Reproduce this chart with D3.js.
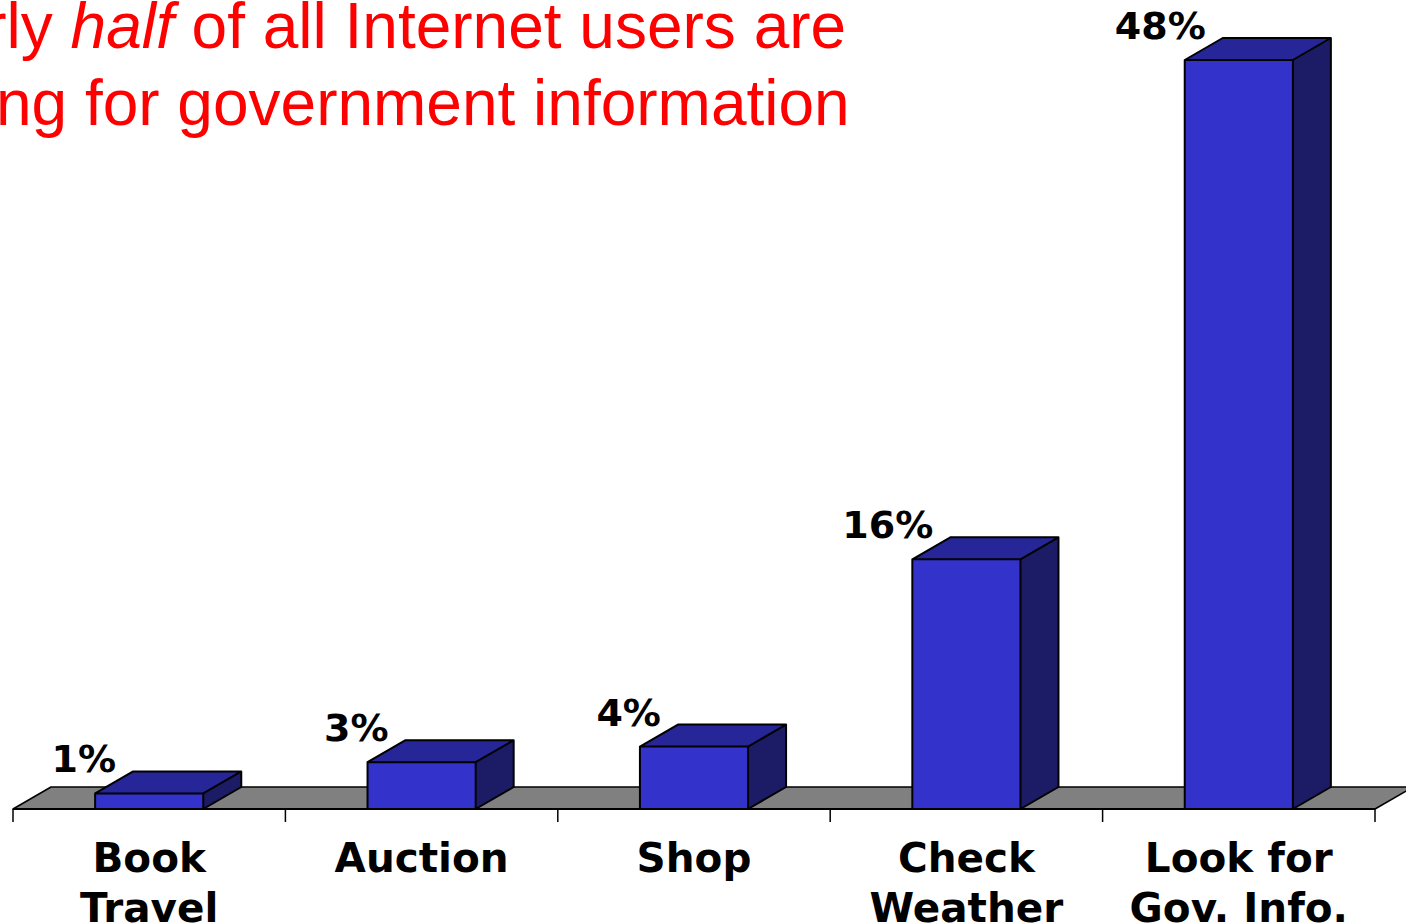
<!DOCTYPE html>
<html>
<head>
<meta charset="utf-8">
<script src="https://cdn.jsdelivr.net/npm/d3@7"></script>
<style>
    body { margin: 0; background: #fff; overflow: hidden; }
    svg { display: block; }
</style>
</head>
<body>
<div id="chart"></div>
<script>
// chart data
var categories = ['Book Travel', 'Auction', 'Shop', 'Check Weather', 'Look for Gov. Info.'];
var categoryLines = [['Book', 'Travel'], ['Auction'], ['Shop'], ['Check', 'Weather'], ['Look for', 'Gov. Info.']];
var values = [1, 3, 4, 16, 48];
var valueLabels = ['1%', '3%', '4%', '16%', '48%'];

// title, pieces with italic flag
var titleLines = [
    [['Nearly ', false], ['half', true], [' of all Internet users are', false]],
    [['looking for government information', false]]
];

var width = 1406,
    height = 924;

// depth of the fake 3d
var depthX = 38,
    depthY = -22;

var colors = {
    front: '#3333CC',
    top: '#262699',
    side: '#1C1C66',
    floor: '#808080'
};

var svg = d3.select('#chart').append('svg')
    .attr('width', width)
    .attr('height', height);

// scales
var x = d3.scaleBand()
    .domain(categories)
    .range([13, 1375])
    .paddingInner(0.603)
    .paddingOuter(0.3015);

var xBand = d3.scaleBand()
    .domain(categories)
    .range([13, 1375]);

var y = d3.scaleLinear()
    .domain([0, 48])
    .range([809, 60]);

var y0 = y(0);

// floor
var floorLeft = xBand.range()[0],
    floorRight = xBand.range()[1];

svg.append('polygon')
    .attr('points', [
        [floorLeft, y0],
        [floorLeft + depthX, y0 + depthY],
        [floorRight + depthX, y0 + depthY],
        [floorRight, y0]
    ].join(' '))
    .attr('fill', colors.floor)
    .attr('stroke', '#000')
    .attr('stroke-width', 1.5)
    .attr('stroke-linejoin', 'round');

// axis line and ticks
var axis = d3.axisBottom(xBand)
    .tickSize(13)
    .tickFormat('');

var axisG = svg.append('g')
    .attr('transform', 'translate(0,' + y0 + ')')
    .call(axis);

axisG.selectAll('.tick').remove();
axisG.select('.domain').attr('stroke', '#000').attr('stroke-width', 2)
    .attr('d', 'M' + floorLeft + ',0H' + floorRight);

var tickPos = categories.map(function(c){ return xBand(c); }).concat([floorRight]);
axisG.selectAll('line.tk')
    .data(tickPos)
    .enter().append('line')
        .attr('class', 'tk')
        .attr('x1', function(d){ return d; })
        .attr('x2', function(d){ return d; })
        .attr('y1', 0)
        .attr('y2', 13)
        .attr('stroke', '#000')
        .attr('stroke-width', 1.5);

// bars
var bars = svg.selectAll('g.bar')
    .data(values)
    .enter().append('g')
        .attr('class', 'bar');

function barPts(d, i){
    var x0 = x(categories[i]),
        x1 = x0 + x.bandwidth(),
        top = y(d);
    return {x0: x0, x1: x1, top: top};
}

bars.append('polygon')
    .attr('points', function(d, i){
        var p = barPts(d, i);
        return [[p.x0, p.top], [p.x0 + depthX, p.top + depthY], [p.x1 + depthX, p.top + depthY], [p.x1, p.top]].join(' ');
    })
    .attr('fill', colors.top);

bars.append('polygon')
    .attr('points', function(d, i){
        var p = barPts(d, i);
        return [[p.x1, p.top], [p.x1 + depthX, p.top + depthY], [p.x1 + depthX, y0 + depthY], [p.x1, y0]].join(' ');
    })
    .attr('fill', colors.side);

bars.append('rect')
    .attr('x', function(d, i){ return x(categories[i]); })
    .attr('y', function(d){ return y(d); })
    .attr('width', x.bandwidth())
    .attr('height', function(d){ return y0 - y(d); })
    .attr('fill', colors.front);

// outline of the whole box
bars.append('path')
    .attr('d', function(d, i){
        var p = barPts(d, i);
        return 'M' + p.x0 + ',' + y0 + 'V' + p.top + 'L' + (p.x0 + depthX) + ',' + (p.top + depthY) +
            'H' + (p.x1 + depthX) + 'V' + (y0 + depthY) + 'L' + p.x1 + ',' + y0 + 'Z' +
            'M' + p.x0 + ',' + p.top + 'H' + p.x1 + 'V' + y0 +
            'M' + p.x1 + ',' + p.top + 'L' + (p.x1 + depthX) + ',' + (p.top + depthY);
    })
    .attr('fill', 'none')
    .attr('stroke', '#000')
    .attr('stroke-width', 2)
    .attr('stroke-linejoin', 'round');

// value labels
bars.append('text')
    .attr('x', function(d, i){ return x(categories[i]) + 21; })
    .attr('y', function(d){ return y(d) - 21; })
    .attr('text-anchor', 'end')
    .attr('font-family', 'DejaVu Sans, Verdana, sans-serif')
    .attr('font-weight', 'bold')
    .attr('font-size', '38px')
    .attr('fill', '#000')
    .text(function(d, i){ return valueLabels[i]; });

// category labels
var catLabels = svg.selectAll('text.cat')
    .data(categories)
    .enter().append('text')
        .attr('class', 'cat')
        .attr('text-anchor', 'middle')
        .attr('font-family', 'DejaVu Sans, Verdana, sans-serif')
        .attr('font-weight', 'bold')
        .attr('font-size', '40.5px')
        .attr('fill', '#000');

catLabels.selectAll('tspan')
    .data(function(d, i){ return categoryLines[i].map(function(l){ return {line: l, cat: d}; }); })
    .enter().append('tspan')
        .attr('x', function(d){ return xBand(d.cat) + xBand.bandwidth() / 2; })
        .attr('y', function(d, j){ return 872 + j * 50; })
        .text(function(d){ return d.line; });

// title
var title = svg.selectAll('text.title')
    .data(titleLines)
    .enter().append('text')
        .attr('class', 'title')
        .attr('x', 357)
        .attr('y', function(d, i){ return 48 + i * 77; })
        .attr('text-anchor', 'middle')
        .attr('font-family', 'Liberation Sans, Arial, sans-serif')
        .attr('font-size', '64px')
        .attr('fill', '#FF0000');

title.selectAll('tspan')
    .data(function(d){ return d; })
    .enter().append('tspan')
        .attr('font-style', function(d){ return d[1] ? 'italic' : 'normal'; })
        .text(function(d){ return d[0]; });
</script>
</body>
</html>
